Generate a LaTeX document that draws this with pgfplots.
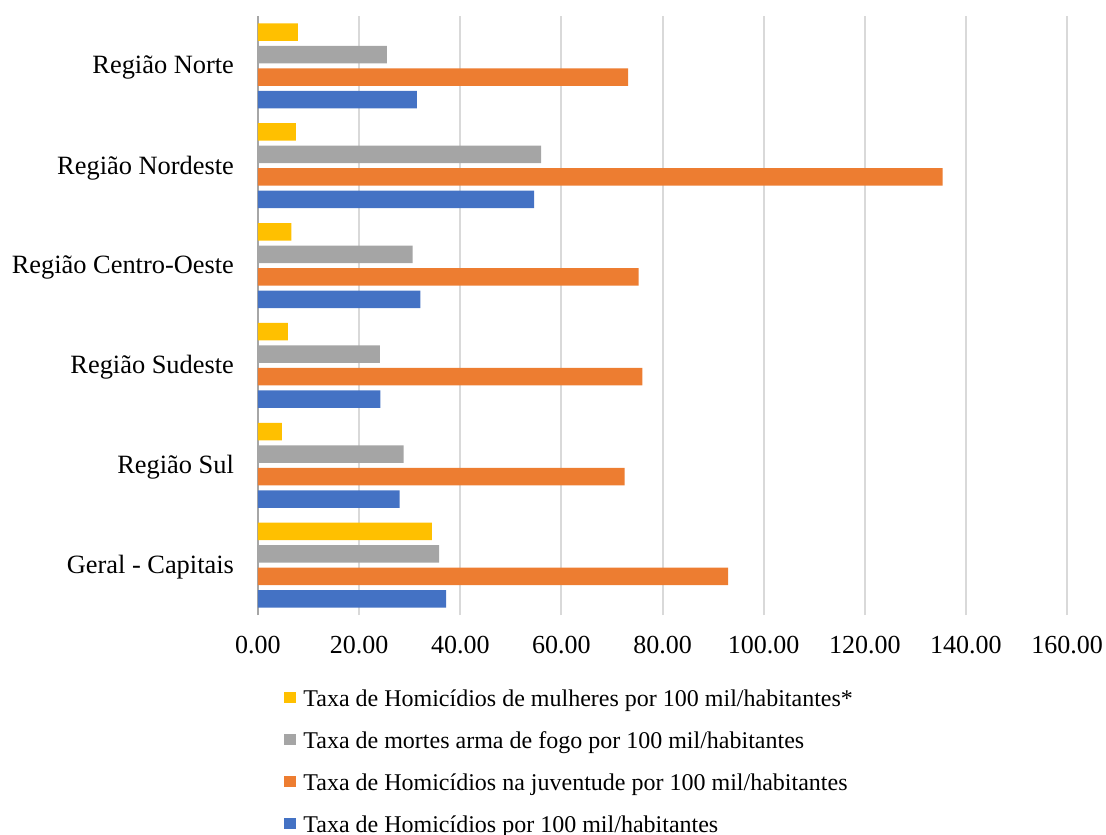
\documentclass[border=0pt]{standalone}
\usepackage{fontspec}
\setmainfont{Liberation Serif}
\usepackage{pgfplots}
\pgfplotsset{compat=1.18}
\definecolor{cY}{HTML}{FFC000}
\definecolor{cG}{HTML}{A5A5A5}
\definecolor{cO}{HTML}{ED7D31}
\definecolor{cB}{HTML}{4472C4}
\definecolor{grid}{HTML}{D9D9D9}
\begin{document}
\begin{tikzpicture}
\begin{axis}[name=ax, scale only axis, width=404.5pt, height=299.5pt,
  xbar, bar width=8.75pt,
  xmin=0, xmax=160, ymin=-0.5, ymax=5.5,
  xtick={0,20,...,160}, ytick={0,...,5},
  yticklabels={Geral - Capitais, Região Sul, Região Sudeste, Região Centro-Oeste, Região Nordeste, Região Norte},
  xmajorgrids, grid style={draw=grid, line width=1pt},
  major tick length=0pt,
  axis x line*=bottom, axis y line*=left,
  x axis line style={draw=none},
  y axis line style={draw=gray!70, line width=0.8pt, -},
  xticklabel style={font=\fontsize{13}{15}\selectfont, yshift=-7pt,
    /pgf/number format/.cd, fixed, fixed zerofill, precision=2, assume math mode=true},
  yticklabel style={font=\fontsize{13.2}{16}\selectfont, xshift=-8.5pt, yshift=-1pt},
  legend image code/.code={\fill[#1] (0pt,-1.5pt) rectangle (6pt,4pt);},
  legend cell align=left,
  legend style={at={(axis description cs:0.0321,-0.122)}, anchor=north west,
    draw=none, fill=none, inner sep=0pt, row sep=9pt, column sep=3.5pt,
    font=\fontsize{12}{14}\selectfont,
    nodes={inner sep=0pt, text height=9pt, text depth=3pt}},
]
\addplot[fill=cY, draw=none, bar shift=16.875pt] coordinates {(34.4,0) (4.7,1) (5.9,2) (6.6,3) (7.5,4) (7.9,5)};
\addlegendentry{Taxa de Homicídios de mulheres por 100 mil/habitantes*}
\addplot[fill=cG, draw=none, bar shift=5.625pt] coordinates {(35.8,0) (28.8,1) (24.1,2) (30.6,3) (56.0,4) (25.5,5)};
\addlegendentry{Taxa de mortes arma de fogo por 100 mil/habitantes}
\addplot[fill=cO, draw=none, bar shift=-5.625pt] coordinates {(93.0,0) (72.5,1) (76.0,2) (75.3,3) (135.4,4) (73.2,5)};
\addlegendentry{Taxa de Homicídios na juventude por 100 mil/habitantes}
\addplot[fill=cB, draw=none, bar shift=-16.875pt] coordinates {(37.2,0) (28.0,1) (24.2,2) (32.1,3) (54.6,4) (31.4,5)};
\addlegendentry{Taxa de Homicídios por 100 mil/habitantes}
\end{axis}
\pgfresetboundingbox
\path[use as bounding box] ([xshift=-129pt,yshift=-109.5pt]ax.south west) rectangle ([xshift=424pt,yshift=8pt]ax.north west);
\end{tikzpicture}
\end{document}
